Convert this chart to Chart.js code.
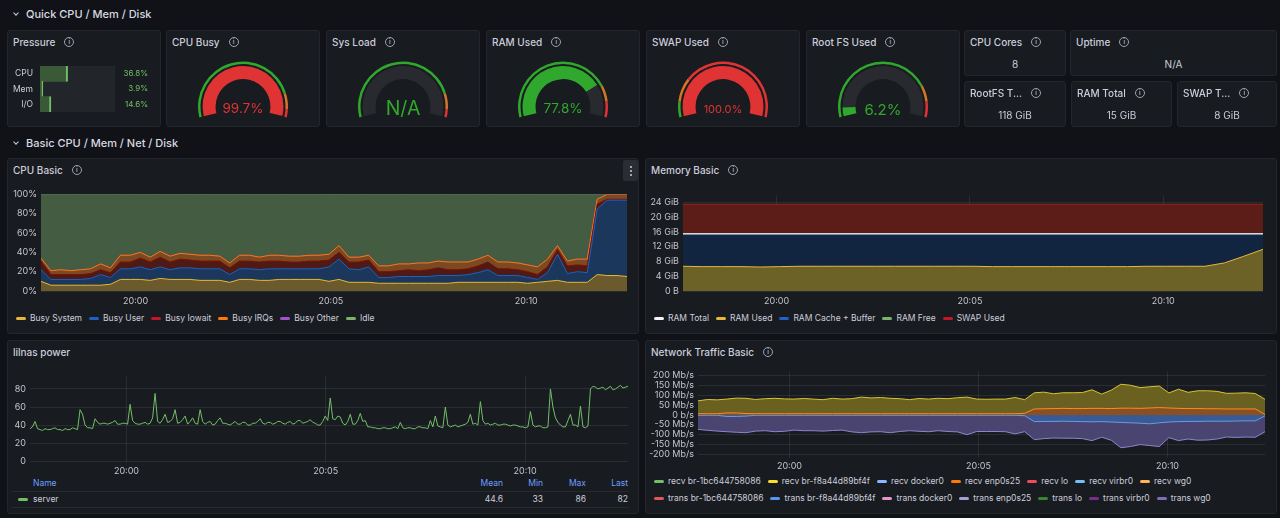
<!DOCTYPE html>
<html>
<head>
<meta charset="utf-8">
<title>Node Exporter</title>
<script src="https://cdn.jsdelivr.net/npm/chart.js@4.4.1/dist/chart.umd.min.js"></script>
<style>
  body { margin: 0; width: 1280px; height: 518px; background: #111217; font-family: Inter, "Noto Sans", sans-serif; color: #ccccdc; position: relative; overflow: hidden; }
  .row { position: absolute; left: 26px; font-size: 11px; font-weight: 500; line-height: 14px; color: #d8d9e0; }
  .chev { position: absolute; width: 3px; height: 3px; border-right: 1.3px solid #ccccdc; border-bottom: 1.3px solid #ccccdc; transform: rotate(45deg); }
  .panel { position: absolute; background: #181b1f; border: 1px solid #23262c; border-radius: 3px; box-sizing: border-box; }
  .ttl { position: absolute; left: 5px; top: 5px; font-size: 10px; font-weight: 500; line-height: 12px; white-space: nowrap; display: flex; align-items: center; }
  .ic { display: inline-block; width: 8px; height: 8px; border: 1px solid #a0a1ab; border-radius: 50%; margin-left: 9px; font-size: 6px; line-height: 8px; text-align: center; color: #a0a1ab; font-weight: 700; }
  .stat { position: absolute; left: 0; right: 0; top: 27px; text-align: center; font-size: 10px; line-height: 12px; }
  canvas { position: absolute; }
  .gv { position: absolute; width: 150px; text-align: center; transform: translateY(-50%); line-height: 1; }
  .legend { position: absolute; font-size: 8.5px; line-height: 11px; display: flex; align-items: center; white-space: nowrap; }
  .legend .it { display: flex; align-items: center; margin-right: 7px; }
  .legend .mk { width: 10px; height: 3px; border-radius: 2px; margin-right: 4px; }
  .menu { position: absolute; left: 623px; top: 160px; width: 15px; height: 21px; background: #2a2d33; border-radius: 2px; }
  .menu i { position: absolute; left: 6.5px; width: 2px; height: 2px; border-radius: 1px; background: #ccccdc; }
  .tbl { position: absolute; font-size: 8.5px; line-height: 11px; }
  .hl { position: absolute; height: 1px; background: #26292f; }
</style>
</head>
<body>

<div class="chev" style="left:14px;top:11px"></div>
<div class="row" style="top:7px">Quick CPU / Mem / Disk</div>
<div class="chev" style="left:14px;top:140px"></div>
<div class="row" style="top:136px">Basic CPU / Mem / Net / Disk</div>

<div class="panel" style="left:7px;top:30px;width:154px;height:97px"><div class="ttl">Pressure<span class="ic">i</span></div></div>

<div class="panel" style="left:7px;top:158px;width:632px;height:176px"><div class="ttl">CPU Basic<span class="ic">i</span></div></div>
<div class="menu"><i style="top:6px"></i><i style="top:10px"></i><i style="top:14px"></i></div>
<div class="panel" style="left:645px;top:158px;width:632px;height:176px"><div class="ttl">Memory Basic<span class="ic">i</span></div></div>
<div class="panel" style="left:7px;top:340px;width:632px;height:174px"><div class="ttl">lilnas power</div></div>
<div class="panel" style="left:645px;top:340px;width:632px;height:174px"><div class="ttl">Network Traffic Basic<span class="ic">i</span></div></div>

<canvas id="pressure" width="153" height="70" style="left:2px;top:54px"></canvas>
<canvas id="cpu" width="623" height="124" style="left:9px;top:185px"></canvas>
<canvas id="mem" width="623" height="123" style="left:647px;top:186px"></canvas>
<canvas id="power" width="623" height="111" style="left:9px;top:366px"></canvas>
<canvas id="net" width="623" height="110" style="left:647px;top:362px"></canvas>

<script>
// time axis, minutes relative to 20:00
const T_START = -2.42;
const T_END = 12.58;
const xTickValues = [0, 5, 10];
const xTickLabels = ['20:00', '20:05', '20:10'];

// quick stats
const pressureLabels = ['CPU', 'Mem', 'I/O'];
const pressureValues = [36.8, 3.9, 14.6];

const gaugeNames = ['CPU Busy', 'Sys Load', 'RAM Used', 'SWAP Used', 'Root FS Used'];
const gaugeValues = [99.7, null, 77.8, 100.0, 6.2];
const gaugeWarn = [85, 85, 80, 10, 80];
const gaugeCrit = [95, 95, 90, 25, 90];

const statNames = ['CPU Cores', 'Uptime', 'RootFS T...', 'RAM Total', 'SWAP T...'];
const statValues = ['8', 'N/A', '118 GiB', '15 GiB', '8 GiB'];

// CPU Basic (% per series, stacked)
const cpuNames = ['Busy System', 'Busy User', 'Busy Iowait', 'Busy IRQs', 'Busy Other', 'Idle'];
const busySystem = [10,6,6,6,6,6,6,7,12,12, 12,11,13,12,12,12,11,11,11,9, 12,12,11,11,12,12,12,12,12,10, 12,9,9,9,8,8,8,8,8,8, 8,8,9,9,9,9,9,9,9,8, 9,10,11,9,9,9,17,16,16,15];
const busyUser   = [12,6,6,6,6,7,11,7,11,11, 13,11,12,10,12,12,12,12,12,8, 11,11,11,12,11,11,11,11,11,15, 21,14,13,16,6,6,7,7,7,7, 8,8,7,8,10,13,7,7,7,6, 3,9,27,9,11,10,68,78,78,79];
const busyIowait = [9,5,5,5,5,5,5,5,7,7, 9,8,10,8,9,8,8,8,8,7, 8,8,8,8,8,7,7,8,8,7, 7,7,8,7,6,6,6,7,6,7, 8,6,6,6,7,8,7,7,6,6, 5,6,5,8,7,7,5,1,1,1];
const busyIrqs   = [3,4,5,4,5,5,6,5,7,7, 6,5,6,6,6,6,6,6,5,5, 6,6,5,6,6,6,6,6,6,6, 7,5,5,5,6,6,7,6,8,7, 7,8,8,7,7,7,7,7,7,7, 8,8,4,5,6,7,5,5,5,5];
const busyOther  = [0,0,0,0,0,0,0,0,0,0, 0,0,0,0,0,0,0,0,0,0, 0,0,0,0,0,0,0,0,0,0, 0,0,0,0,0,0,0,0,0,0, 0,0,0,0,0,0,0,0,0,0, 0,0,0,0,0,0,0,0,0,0];
const idle       = [66,79,78,79,78,77,72,76,63,63, 60,65,59,64,61,62,63,63,64,71, 63,63,65,63,63,64,64,63,63,62, 53,65,65,63,74,74,72,72,71,71, 69,70,70,70,67,63,70,70,71,73, 75,67,53,69,67,67,5,0,0,0];
const cpuTicks = [0, 20, 40, 60, 80, 100];
const cpuTickLabels = ['0%', '20%', '40%', '60%', '80%', '100%'];

// Memory Basic (GiB)
const memNames = ['RAM Total', 'RAM Used', 'RAM Cache + Buffer', 'RAM Free', 'SWAP Used'];
const ramTotal = [15.5,15.5,15.5,15.5,15.5,15.5,15.5,15.5,15.5,15.5, 15.5,15.5,15.5,15.5,15.5,15.5,15.5,15.5,15.5,15.5, 15.5,15.5,15.5,15.5,15.5,15.5,15.5,15.5,15.5,15.5, 15.5];
const ramUsed  = [6.7,6.6,6.6,6.6,6.5,6.6,6.7,6.7,6.7,6.7, 6.7,6.7,6.7,6.7,6.7,6.7,6.6,6.6,6.6,6.6, 6.6,6.6,6.6,6.6,6.7,6.7,6.7,6.7,7.6,9.4, 11.3];
const ramCache = [8.55,8.65,8.65,8.65,8.75,8.65,8.55,8.55,8.55,8.55, 8.55,8.55,8.55,8.55,8.55,8.55,8.65,8.65,8.65,8.65, 8.65,8.65,8.65,8.65,8.55,8.55,8.55,8.55,7.65,5.85, 3.95];
const ramFree  = [0.25,0.25,0.25,0.25,0.25,0.25,0.25,0.25,0.25,0.25, 0.25,0.25,0.25,0.25,0.25,0.25,0.25,0.25,0.25,0.25, 0.25,0.25,0.25,0.25,0.25,0.25,0.25,0.25,0.25,0.25, 0.25];
const swapUsed = [8,8,8,8,8,8,8,8,8,8, 8,8,8,8,8,8,8,8,8,8, 8,8,8,8,8,8,8,8,8,8, 8];
const memTicks = [0, 4, 8, 12, 16, 20, 24];
const memTickLabels = ['0 B', '4 GiB', '8 GiB', '12 GiB', '16 GiB', '20 GiB', '24 GiB'];

// lilnas power (W)
const powerServer = [
  36,38,44,36,35,34,36,35,35,36,37,35,35,34,36,35,35,37,36,35,
  57,52,40,37,37,36,47,43,41,42,42,41,42,43,45,41,41,42,42,41,
  63,45,42,41,41,42,43,41,42,48,75,44,42,46,52,43,44,47,57,42,
  43,46,50,41,44,48,42,41,57,44,41,43,44,40,41,45,48,42,42,41,
  40,42,44,41,41,43,43,40,40,42,42,44,47,42,41,43,43,41,42,44,
  44,42,41,43,44,41,42,45,45,42,43,44,46,43,42,40,40,44,50,45,
  70,47,46,50,49,42,40,44,52,41,41,45,53,44,45,38,38,37,37,36,
  36,37,37,36,36,37,38,36,43,37,36,37,37,36,36,38,38,37,37,36,
  45,38,50,39,38,37,60,40,38,39,40,38,39,40,41,43,52,41,42,40,
  66,45,41,42,40,41,42,40,40,41,41,40,39,40,40,39,38,38,37,38,
  55,40,38,39,39,37,37,38,80,60,48,43,40,38,38,45,52,40,40,38,
  61,38,37,39,80,83,82,80,81,82,79,81,83,79,80,82,84,81,82,83];
const powerTicks = [0, 20, 40, 60, 80];
const powerTickLabels = ['0', '20', '40', '60', '80'];
const powerStatNames = ['Mean', 'Min', 'Max', 'Last'];
const powerStatValues = ['44.6', '33', '86', '82'];

// Network Traffic Basic (Mb/s, transmit negative)
const recvEnp0s25 = [6,6,6,10,10,7,6,6,6,6, 6,6,6,6,6,6,6,6,6,6, 6,6,6,6,6,6,6,6,6,6, 6,6,6,6,8,30,31,32,33,32, 32,33,33,32,34,34,33,35,37,35, 33,32,32,31,31,30,30,30,30,2];
const recvBrF8a = [71,78,76,80,85,84,78,82,84,81, 80,83,80,77,84,80,82,90,86,88, 84,82,77,83,80,84,82,87,90,80, 79,80,80,88,77,112,115,107,112,112, 113,127,105,125,155,150,138,142,146,111, 130,114,122,122,119,109,110,112,108,79];
const transBrF8a = [-2,-2,-2,-8,-8,-6,-2,-2,-2,-2, -2,-2,-2,-2,-2,-2,-2,-2,-2,-2, -2,-2,-2,-2,-2,-2,-2,-2,-2,-2, -2,-2,-2,-2,-4,-34,-33,-33,-32,-33, -34,-35,-34,-36,-38,-40,-42,-45,-40,-36, -34,-33,-33,-32,-32,-32,-31,-30,-30,-5];
const transEnp0s25 = [-73,-78,-82,-85,-88,-90,-82,-80,-85,-83, -77,-80,-80,-82,-79,-77,-86,-90,-86,-85, -90,-84,-80,-83,-85,-80,-84,-86,-100,-84, -84,-84,-85,-96,-85,-125,-120,-117,-118,-118, -120,-130,-113,-128,-166,-160,-150,-155,-160,-115, -130,-122,-128,-127,-122,-112,-114,-112,-113,-85];
const netTicks = [-200, -150, -100, -50, 0, 50, 100, 150, 200];
const netTickLabels = ['-200 Mb/s', '-150 Mb/s', '-100 Mb/s', '-50 Mb/s', '0 b/s', '50 Mb/s', '100 Mb/s', '150 Mb/s', '200 Mb/s'];
const netRecvNames = ['recv br-1bc644758086', 'recv br-f8a44d89bf4f', 'recv docker0', 'recv enp0s25', 'recv lo', 'recv virbr0', 'recv wg0'];
const netTransNames = ['trans br-1bc644758086', 'trans br-f8a44d89bf4f', 'trans docker0', 'trans enp0s25', 'trans lo', 'trans virbr0', 'trans wg0'];

const GREEN = 'rgba(50, 172, 45, 0.97)';
const ORANGE = 'rgba(237, 129, 40, 0.89)';
const RED = 'rgba(245, 54, 54, 0.9)';
const GRID = 'rgba(240, 250, 255, 0.08)';
const AXIS = '#c4c4cf';

Chart.defaults.font.family = 'Inter, "Noto Sans", sans-serif';
Chart.defaults.color = '#ccccdc';
Chart.defaults.animation = false;
Chart.defaults.events = [];
Chart.defaults.plugins.legend.display = false;
Chart.defaults.plugins.tooltip.enabled = false;

// ---- gauges
const gaugeLeft = [166, 326, 486, 646, 806];
const gaugeFont = [13.5, 19.5, 13.5, 11, 15];

gaugeNames.forEach((name, i) => {
  const left = gaugeLeft[i];
  document.body.insertAdjacentHTML('beforeend',
    `<div class="panel" style="left:${left}px;top:30px;width:154px;height:97px"><div class="ttl">${name}<span class="ic">i</span></div></div>`);
  const cv = document.createElement('canvas');
  cv.width = 150;
  cv.height = 65;
  cv.style.left = (left + 2) + 'px';
  cv.style.top = '57px';
  document.body.appendChild(cv);

  const v = gaugeValues[i];
  const col = v == null ? GREEN : (v >= gaugeCrit[i] ? RED : v >= gaugeWarn[i] ? ORANGE : GREEN);
  new Chart(cv, {
    type: 'doughnut',
    data: {
      datasets: [
        { data: [gaugeWarn[i], gaugeCrit[i] - gaugeWarn[i], 100 - gaugeCrit[i]], backgroundColor: [GREEN, ORANGE, RED], weight: 2.5 },
        { data: [100], backgroundColor: ['rgba(0,0,0,0)'], weight: 2 },
        { data: v == null ? [0, 100] : [v, 100 - v], backgroundColor: [col, '#282a30'], weight: 13 }
      ]
    },
    options: {
      responsive: false,
      rotation: -104,
      circumference: 208,
      radius: 45,
      cutout: '61%',
      elements: { arc: { borderWidth: 0 } }
    }
  });

  const txt = v == null ? 'N/A' : v.toFixed(1) + '%';
  document.body.insertAdjacentHTML('beforeend',
    `<div class="gv" style="left:${left + 2}px;top:108.5px;font-size:${gaugeFont[i]}px;color:${col}">${txt}</div>`);
});

// ---- single stats
const statBox = [[964, 30, 102], [1070, 30, 207], [964, 81, 102], [1071, 81, 101], [1177, 81, 100]];
statNames.forEach((name, i) => {
  const [l, t, w] = statBox[i];
  document.body.insertAdjacentHTML('beforeend',
    `<div class="panel" style="left:${l}px;top:${t}px;width:${w}px;height:46px"><div class="ttl">${name}<span class="ic">i</span></div><div class="stat">${statValues[i]}</div></div>`);
});

// ---- pressure bar gauge
const barValueText = {
  id: 'barValueText',
  afterDatasetsDraw(chart) {
    const { ctx } = chart;
    ctx.save();
    ctx.font = '8px Inter';
    ctx.fillStyle = '#73BF69';
    ctx.textAlign = 'right';
    ctx.textBaseline = 'middle';
    chart.getDatasetMeta(0).data.forEach((bar, i) => {
      ctx.fillText(pressureValues[i].toFixed(1) + '%', chart.width - 7, bar.y);
    });
    ctx.restore();
  }
};

new Chart(document.getElementById('pressure'), {
  type: 'bar',
  data: {
    labels: pressureLabels,
    datasets: [
      { data: pressureValues, backgroundColor: '#3a5a37', borderColor: '#73BF69',
        borderWidth: { top: 0, right: 2, bottom: 0, left: 0 }, borderSkipped: false, grouped: false, barThickness: 16 },
      { data: [100, 100, 100], backgroundColor: '#22252a', borderWidth: 0, grouped: false, barThickness: 16 }
    ]
  },
  options: {
    responsive: false,
    indexAxis: 'y',
    layout: { padding: { right: 40 } },
    scales: {
      x: { display: false, min: 0, max: 100 },
      y: {
        grid: { display: false, drawTicks: false }, border: { display: false },
        ticks: { padding: 7, font: { size: 8.5 }, color: '#ccccdc' },
        afterFit: s => { s.width = 38; }
      }
    }
  },
  plugins: [barValueText]
});

// ---- time series
const pts = vals => vals.map((v, i) => ({ x: T_START + i * (T_END - T_START) / (vals.length - 1), y: v }));

function timeChart(id, datasets, cfg) {
  return new Chart(document.getElementById(id), {
    type: 'line',
    data: { datasets },
    options: {
      responsive: false,
      layout: { padding: { top: 6, right: cfg.padRight } },
      elements: { point: { radius: 0 }, line: { borderWidth: 1, tension: 0 } },
      scales: {
        x: {
          type: 'linear', min: T_START, max: T_END,
          afterBuildTicks: s => { s.ticks = xTickValues.map(v => ({ value: v })); },
          afterFit: s => { s.height = cfg.xHeight; },
          ticks: { callback: (v, i) => xTickLabels[i], padding: cfg.xPad, font: { size: 9 }, color: AXIS, maxRotation: 0, autoSkip: false },
          grid: { color: GRID, drawTicks: false }, border: { display: false }
        },
        y: {
          min: cfg.min, max: cfg.max, stacked: !!cfg.stacked,
          afterBuildTicks: s => { s.ticks = cfg.ticks.map(v => ({ value: v })); },
          afterFit: s => { s.width = cfg.yWidth; },
          ticks: { callback: (v, i) => cfg.labels[i], padding: 4, font: { size: 9 }, color: AXIS, autoSkip: false },
          grid: { color: GRID, drawTicks: false }, border: { display: false }
        }
      }
    }
  });
}

const cpuLine = ['#EAB839', '#1F60C4', '#890F02', '#FF780A', '#8F3BB8', '#7EB26D'];
const cpuFill = ['#6b5a2c', '#1b385c', '#4e1a15', '#7a4a22', '#3a2244', '#445c42'];
const cpuSeries = [busySystem, busyUser, busyIowait, busyIrqs, busyOther, idle];
timeChart('cpu', cpuSeries.map((s, i) => ({
  label: cpuNames[i], data: pts(s), borderColor: cpuLine[i], backgroundColor: cpuFill[i], fill: i === 0 ? 'origin' : '-1'
})), { min: 0, max: 100, stacked: true, ticks: cpuTicks, labels: cpuTickLabels, yWidth: 32, padRight: 5, xHeight: 18, xPad: 5 });

const memLine = ['#d8d8d8', '#EAB839', '#1a3a66', '#7EB26D', '#a0231a'];
const memFill = ['rgba(0,0,0,0)', '#6c6126', '#112540', '#4d6b45', '#5c1c18'];
timeChart('mem', [
  { label: memNames[0], data: pts(ramTotal), borderColor: memLine[0], borderWidth: 1.5, fill: false, stack: 'total' },
  { label: memNames[1], data: pts(ramUsed), borderColor: memLine[1], backgroundColor: memFill[1], fill: 'origin' },
  { label: memNames[2], data: pts(ramCache), borderColor: memLine[2], backgroundColor: memFill[2], fill: '-1' },
  { label: memNames[3], data: pts(ramFree), borderColor: memLine[3], backgroundColor: memFill[3], fill: '-1' },
  { label: memNames[4], data: pts(swapUsed), borderColor: memLine[4], backgroundColor: memFill[4], fill: '-1' }
], { min: 0, max: 25.9, stacked: true, ticks: memTicks, labels: memTickLabels, yWidth: 36, padRight: 7, xHeight: 18, xPad: 5 });

timeChart('power', [
  { label: 'server', data: pts(powerServer), borderColor: '#73BF69', fill: false }
], { min: -2, max: 95, ticks: powerTicks, labels: powerTickLabels, yWidth: 21, padRight: 4, xHeight: 14, xPad: 3 });

timeChart('net', [
  { label: netRecvNames[3], data: pts(recvEnp0s25), borderColor: '#FF8a2a', backgroundColor: '#8a5020', fill: 'origin' },
  { label: netRecvNames[1], data: pts(recvBrF8a), borderColor: '#d8c437', backgroundColor: '#6a6020', fill: 'origin' },
  { label: netTransNames[1], data: pts(transBrF8a), borderColor: '#6b9be0', backgroundColor: '#3a5a96', fill: 'origin' },
  { label: netTransNames[3], data: pts(transEnp0s25), borderColor: '#8f85cc', backgroundColor: '#4a4570', fill: 'origin' }
], { min: -218, max: 220, ticks: netTicks, labels: netTickLabels, yWidth: 51, padRight: 5, xHeight: 14, xPad: 3 });

// ---- legends
function legend(left, top, names, colors) {
  const el = document.createElement('div');
  el.className = 'legend';
  el.style.left = left + 'px';
  el.style.top = top + 'px';
  names.forEach((n, i) => {
    el.insertAdjacentHTML('beforeend', `<span class="it"><span class="mk" style="background:${colors[i]}"></span>${n}</span>`);
  });
  document.body.appendChild(el);
}

legend(16, 312.5, cpuNames, ['#EAB839', '#1F60C4', '#C4162A', '#FF780A', '#A352CC', '#7EB26D']);
legend(654, 312.5, memNames, ['#F4F5F8', '#EAB839', '#1F60C4', '#7EB26D', '#C4162A']);
legend(654, 475.5, netRecvNames, ['#73BF69', '#FADE2A', '#8AB8FF', '#FF780A', '#F2495C', '#73C0F5', '#FFB357']);
legend(654, 492.5, netTransNames, ['#E0575B', '#5794F2', '#E695C9', '#A59FD8', '#37872D', '#7B2C8F', '#806EB7']);

// power legend table
const colRight = [503, 543, 586, 628];
let html = `<div class="tbl" style="left:33px;top:477.5px;color:#6E9FFF">Name</div>`;
html += `<div class="hl" style="left:12px;top:491px;width:617px"></div>`;
html += `<div class="hl" style="left:12px;top:507px;width:617px"></div>`;
html += `<div style="position:absolute;left:18px;top:498px;width:10px;height:3px;border-radius:2px;background:#73BF69"></div>`;
html += `<div class="tbl" style="left:33px;top:493.5px">server</div>`;
powerStatNames.forEach((n, i) => {
  html += `<div class="tbl" style="right:${1280 - colRight[i]}px;top:477.5px;color:#6E9FFF">${n}</div>`;
  html += `<div class="tbl" style="right:${1280 - colRight[i]}px;top:493.5px">${powerStatValues[i]}</div>`;
});
document.body.insertAdjacentHTML('beforeend', html);
</script>
</body>
</html>
